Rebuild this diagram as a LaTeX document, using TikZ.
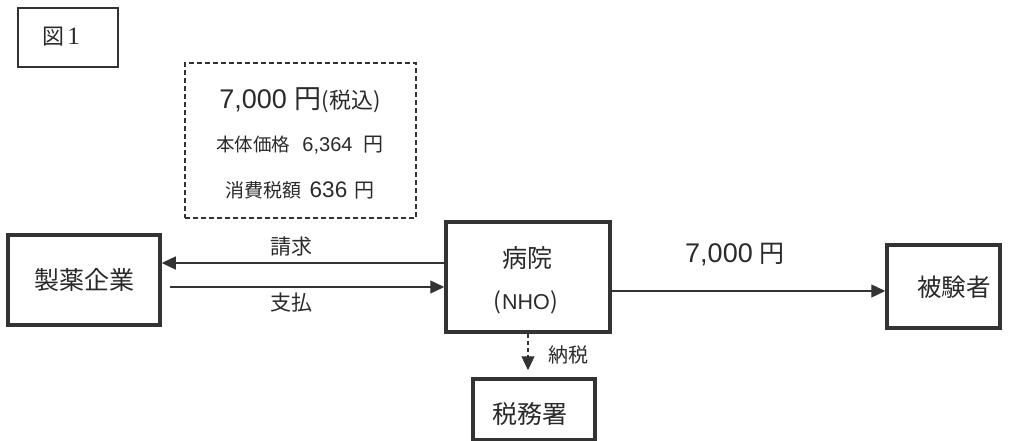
\documentclass[tikz,border=0pt]{standalone}
\usepackage{fontspec}
\setmainfont{Noto Sans CJK JP}
\newfontfamily\lat{Liberation Sans}
\newfontfamily\serifnum{Liberation Serif}
\usetikzlibrary{arrows.meta}
\definecolor{ink}{HTML}{333333}
\definecolor{txt}{HTML}{2A2A2A}
\tikzset{
  thickbox/.style={draw=ink, line width=3.5pt, minimum width=#1, inner sep=0pt, text=txt},
  arr/.style={draw=ink, line width=1.3pt, -{Triangle[length=14pt,width=13pt]}},
  lbl/.style={text=txt, inner sep=0pt},
}
\newcommand{\fs}[1]{\fontsize{#1}{#1}\selectfont}
\begin{document}
\begin{tikzpicture}[x=1pt,y=-1pt]
\useasboundingbox[fill=white] (0,0) rectangle (1014,441);
% figure label
\node[draw=ink, line width=1.6pt, minimum width=100pt, minimum height=59pt, inner sep=0pt] (fig) at (68,37.5) {};
\node[lbl, font=\fs{22}] (figt) at (61,37) {図\hspace{3pt}{\serifnum\fs{25}1}};
% dashed price box
\node[draw=ink, line width=1.5pt, dash pattern=on 5pt off 3pt, minimum width=231pt, minimum height=155pt] (price) at (300.5,140.5) {};
\node[lbl, font=\fs{22}] (p1) at (300,100) {{\lat\fs{27}7,000}\hspace{8pt}{\fs{27}円}(税込)};
\node[lbl, font=\fs{18.5}] (p2) at (300,145) {本体価格\hspace{12pt}{\lat\fs{20}6,364}\hspace{11pt}{\fs{20}円}};
\node[lbl, font=\fs{19}] (p3) at (300,190) {消費税額\hspace{8pt}{\lat\fs{22.5}636}\hspace{7pt}{\fs{20}円}};
% main boxes
\node[thickbox=152pt, minimum height=90pt, font=\fs{25}] (pharma) at (84,280) {製薬企業};
\node[thickbox=164pt, minimum height=110pt] (hosp) at (528,277) {};
\node[lbl, font=\fs{25}] (hosp1) at (527,258) {病院};
\node[lbl, font=\fs{23}] (hosp2) at (526,302) {(\hspace{1pt}{\lat\fs{21.5}NHO}\hspace{1pt})};
\node[thickbox=113pt, minimum height=83pt] (subj) at (943.5,286.5) {};
\node[lbl, font=\fs{24.5}] (subjt) at (954,287) {被験者};
\node[thickbox=122pt, minimum height=61pt] (tax) at (534,409.5) {};
\node[lbl, font=\fs{25}] (taxt) at (530,414) {税務署};
% connectors
\draw[arr] ([yshift=14pt]hosp.west) -- ([yshift=14pt]hosp.west -| pharma.east);
\draw[arr] ([yshift=-10pt,xshift=8pt]hosp.west -| pharma.east) -- ([yshift=-10pt]hosp.west);
\draw[arr] ([yshift=-14pt]hosp.east) -- ([yshift=-14pt]hosp.east -| subj.west);
\draw[arr, dashed, dash pattern=on 4pt off 3pt, shorten >=7pt] (hosp.south) -- (hosp.south |- tax.north);
% labels
\node[lbl, font=\fs{21}] (l1) at (291,247) {請求};
\node[lbl, font=\fs{21}] (l2) at (291,303) {支払};
\node[lbl, font=\fs{25}] (l3) at (735,255) {{\lat\fs{27}7,000}\hspace{7pt}円};
\node[lbl, font=\fs{20}] (l4) at (568,355) {納税};
\end{tikzpicture}
\end{document}
